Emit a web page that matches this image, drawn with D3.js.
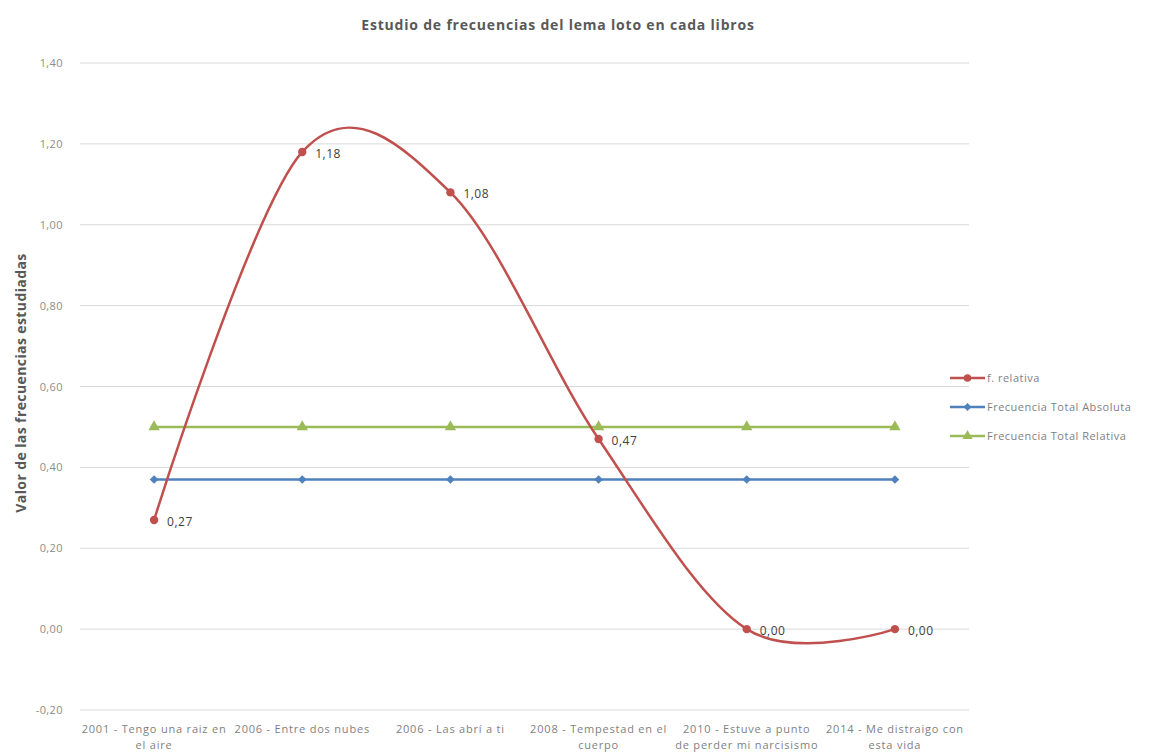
<!DOCTYPE html>
<html>
<head>
<meta charset="utf-8">
<script src="https://cdn.jsdelivr.net/npm/d3@7/dist/d3.min.js"></script>
<style>
  html, body { margin: 0; padding: 0; background: #fff; }
  svg { display: block; font-family: "Open Sans", "Liberation Sans", sans-serif; }
</style>
</head>
<body>
<svg id="chart" width="1155" height="756"></svg>
<script>
// Books (categories), wrapped onto two lines under the axis
const categories = [
  ["2001 - Tengo una raiz en", "el aire"],
  ["2006 - Entre dos nubes"],
  ["2006 - Las abrí a ti"],
  ["2008 - Tempestad en el", "cuerpo"],
  ["2010 - Estuve a punto", "de perder mi narcisismo"],
  ["2014 - Me distraigo con", "esta vida"]
];
const fRelativa = [0.27, 1.18, 1.08, 0.47, 0.00, 0.00];
const totalAbsoluta = [0.37, 0.37, 0.37, 0.37, 0.37, 0.37];
const totalRelativa = [0.50, 0.50, 0.50, 0.50, 0.50, 0.50];
const yTicks = [-0.20, 0.00, 0.20, 0.40, 0.60, 0.80, 1.00, 1.20, 1.40];
const seriesNames = ["f. relativa", "Frecuencia Total Absoluta", "Frecuencia Total Relativa"];

const svg = d3.select("#chart");
const plotLeft = 80, plotRight = 969, plotTop = 63, plotBottom = 710;

const x = d3.scaleBand().domain(d3.range(categories.length)).range([plotLeft, plotRight]);
const cx = i => x(i) + x.bandwidth() / 2;
const y = d3.scaleLinear().domain([-0.2, 1.4]).range([plotBottom, plotTop]);
const fmt = v => d3.format(".2f")(v).replace(".", ",").replace("\u2212", "-");

// Horizontal gridlines
svg.append("g").selectAll("line").data(yTicks).join("line")
  .attr("x1", plotLeft).attr("x2", plotRight)
  .attr("y1", d => y(d)).attr("y2", d => y(d))
  .attr("stroke", "#d9d9d9").attr("stroke-width", 1);

// Y axis tick labels
const yAxis = svg.append("g").attr("transform", `translate(${plotLeft - 14},0)`)
  .call(d3.axisLeft(y).tickValues(yTicks).tickFormat(fmt).tickSize(0));
yAxis.select(".domain").remove();
yAxis.selectAll("text").attr("fill", "#8c8c8c").attr("font-size", 11)
  .attr("letter-spacing", "0.4px").attr("dx", 0).attr("font-family", "Open Sans");

// X axis category labels
const xg = svg.append("g").attr("transform", `translate(0,${plotBottom + 12})`)
  .call(d3.axisBottom(x).tickSize(0).tickFormat(""));
xg.select(".domain").remove();
xg.selectAll(".tick").each(function(i) {
  const t = d3.select(this).append("text")
    .attr("fill", "#7f7f7f").attr("font-size", 11).attr("letter-spacing", "0.8px")
    .attr("text-anchor", "middle").attr("font-family", "Open Sans");
  categories[i].forEach((line, k) => {
    t.append("tspan").attr("x", 0).attr("y", 11 + k * 15.5).text(line);
  });
});

// Title and axis title
svg.append("text").attr("x", 558).attr("y", 30).attr("text-anchor", "middle")
  .attr("font-size", 14).attr("font-weight", "bold").attr("letter-spacing", "0.8px")
  .attr("fill", "#595959")
  .text("Estudio de frecuencias del lema loto en cada libros");
svg.append("text").attr("transform", `translate(26,383) rotate(-90)`)
  .attr("text-anchor", "middle").attr("font-size", 14).attr("font-weight", "bold")
  .attr("letter-spacing", "0.4px")
  .attr("fill", "#595959").text("Valor de las frecuencias estudiadas");

const colors = ["#c0504d", "#4f81bd", "#9bbb59"];
const straight = d3.line().x((d, i) => cx(i)).y(d => y(d));
const smooth = d3.line().x((d, i) => cx(i)).y(d => y(d)).curve(d3.curveCardinal.tension(0));

function marker(g, kind, color) {
  if (kind === "circle") {
    g.append("circle").attr("r", 4.2).attr("fill", color);
  } else if (kind === "diamond") {
    g.append("path").attr("d", d3.symbol(d3.symbolDiamond2, 48)()).attr("fill", color);
  } else {
    g.append("path").attr("d", d3.symbol(d3.symbolTriangle, 56)()).attr("fill", color);
  }
}

// Flat reference series
[[totalAbsoluta, "diamond", colors[1]], [totalRelativa, "triangle", colors[2]]].forEach(([vals, kind, col]) => {
  svg.append("path").attr("d", straight(vals)).attr("fill", "none")
    .attr("stroke", col).attr("stroke-width", 2.5);
  vals.forEach((v, i) => {
    const g = svg.append("g").attr("transform", `translate(${cx(i)},${y(v)})`);
    marker(g, kind, col);
  });
});

// Smoothed relative frequency series with value labels
svg.append("path").attr("d", smooth(fRelativa)).attr("fill", "none")
  .attr("stroke", colors[0]).attr("stroke-width", 2.5);
fRelativa.forEach((v, i) => {
  const g = svg.append("g").attr("transform", `translate(${cx(i)},${y(v)})`);
  marker(g, "circle", colors[0]);
  svg.append("text").attr("x", cx(i) + 13).attr("y", y(v) + 6)
    .attr("font-size", 12).attr("letter-spacing", "0.5px")
    .attr("fill", "#404040").text(fmt(v));
});

// Legend
const kinds = ["circle", "diamond", "triangle"];
seriesNames.forEach((name, k) => {
  const ly = 378 + k * 29;
  const g = svg.append("g").attr("transform", `translate(950,${ly})`);
  g.append("line").attr("x1", 0).attr("x2", 35).attr("stroke", colors[k]).attr("stroke-width", 2.5);
  const m = g.append("g").attr("transform", "translate(17.5,0) scale(0.9)");
  marker(m, kinds[k], colors[k]);
  g.append("text").attr("x", 37).attr("y", 4).attr("font-size", 11)
    .attr("letter-spacing", "0.5px").attr("fill", "#7f7f7f").text(name);
});
</script>
</body>
</html>
